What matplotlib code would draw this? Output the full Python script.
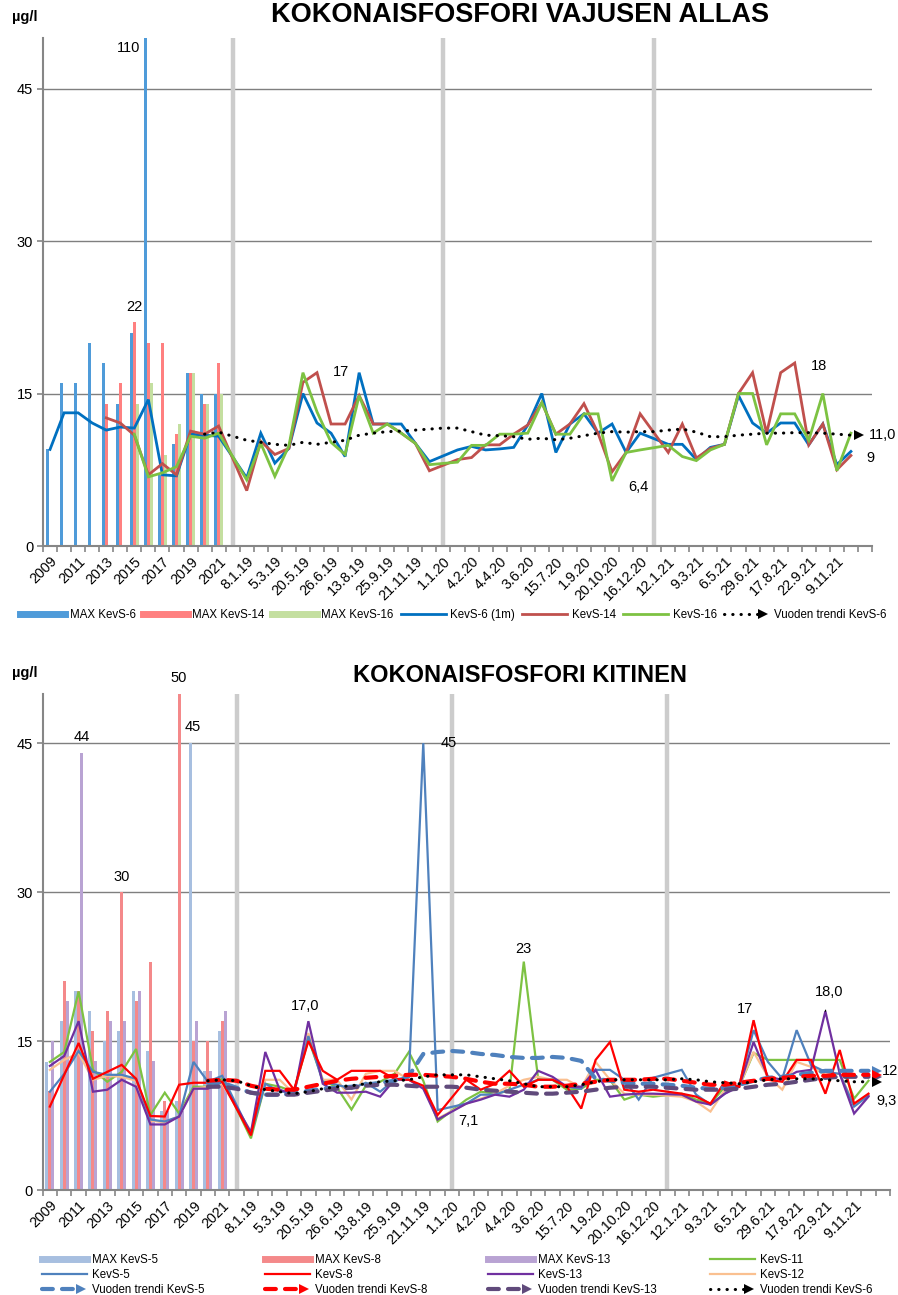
import numpy as np
import matplotlib.pyplot as plt
from matplotlib.lines import Line2D
from matplotlib.legend_handler import HandlerBase

plt.rcParams['font.family'] = ['Liberation Sans', 'DejaVu Sans']

# category axis: 13 years, separator, 14 dates 2019, separator, 14 dates 2020, separator, 14 dates 2021, blank
N_CAT = 59
separators = [13, 28, 43]
x_labels = ['2009', '', '2011', '', '2013', '', '2015', '', '2017', '', '2019', '', '2021', '',
            '8.1.19', '', '5.3.19', '', '20.5.19', '', '26.6.19', '', '13.8.19', '', '25.9.19', '', '21.11.19', '',
            '1.1.20', '', '4.2.20', '', '4.4.20', '', '3.6.20', '', '15.7.20', '', '1.9.20', '', '20.10.20', '',
            '16.12.20', '',
            '12.1.21', '', '9.3.21', '', '6.5.21', '', '29.6.21', '', '17.8.21', '', '22.9.21', '', '9.11.21', '', '']
TREND_START = 11

# ---- top chart: Vajusen allas ----
max_kevs6 = [9.5, 16, 16, 20, 18, 14, 21, 110, 7, 10, 17, 15, 15]
max_kevs14 = [None, None, None, None, 14, 16, 22, 20, 20, 11, 17, 14, 18]
max_kevs16 = [None, None, None, None, None, None, 14, 16, 9, 12, 17, 14, 15]

kevs6_years = [9.5, 13.1, 13.1, 12.1, 11.4, 11.7, 11.6, 14.4, 7.0, 6.9, 11.0, 10.9, 10.8]
kevs6_2019 = [6.7, 11.1, 8.15, 9.6, 15.0, 12.1, 11.1, 8.8, 17.05, 12.0, 12.0, 12.0, 10.1, 8.3]
kevs6_2020 = [9.45, 9.8, 9.45, 9.55, 9.7, 11.9, 15.0, 9.2, 12.0, 13.0, 11.1, 12.0, 9.2, 11.1]
kevs6_2021 = [10.0, 10.0, 8.5, 9.7, 10.0, 14.8, 12.1, 11.1, 12.1, 12.1, 9.95, 12.0, 8.0, 9.3]

kevs14_years = [None, None, None, None, 12.6, 12.1, 10.9, 7.0, 8.1, 7.0, 11.3, 11.0, 11.8]
kevs14_2019 = [5.45, 10.3, 9.0, 9.6, 16.1, 17.05, 12.0, 12.0, 14.8, 12.0, 12.0, 11.1, 10.1, 7.4]
kevs14_2020 = [8.5, 8.7, 9.95, 9.95, 11.0, 11.9, 14.1, 11.0, 12.0, 14.0, 11.1, 7.3, 9.2, 13.0]
kevs14_2021 = [9.2, 12.0, 8.65, 9.6, 10.0, 15.0, 17.05, 11.1, 17.05, 18.0, 9.95, 12.0, 7.5, 8.9]

kevs16_years = [None, None, None, None, None, None, 11.0, 6.8, 7.2, 7.8, 10.8, 10.6, 11.1]
kevs16_2019 = [6.5, 10.1, 6.85, 9.85, 17.05, 13.2, 10.2, 9.0, 14.8, 11.1, 12.0, 11.1, 10.1, 8.0]
kevs16_2020 = [8.25, 9.9, 9.9, 11.0, 11.0, 11.1, 14.1, 11.0, 11.0, 13.0, 13.0, 6.4, 9.2, 9.45]
kevs16_2021 = [9.9, 8.8, 8.4, 9.45, 10.0, 15.0, 15.0, 9.95, 13.0, 13.0, 10.4, 15.0, 7.4, 11.1]

trend6_top = [11.0, 11.2, 10.8, 10.4, 10.2, 10.0, 9.9, 10.2, 10.0, 10.2, 10.4, 10.9, 11.1, 11.25,
              11.3, 11.4, 11.5, 11.6, 11.6, 11.25, 10.9, 10.85, 10.75, 10.5, 10.6, 10.45, 10.6, 10.85,
              11.1, 11.25, 11.2, 11.25, 11.25, 11.4, 11.5, 11.2, 10.75, 10.75, 10.9, 11.0, 11.1, 11.1,
              11.15, 11.15, 11.1, 11.0, 10.9]

# ---- bottom chart: Kitinen ----
max_kevs5 = [12.9, 17, 20, 18, 15, 16, 20, 14, 8, 9, 45, 12, 16]
max_kevs8 = [10, 21, 20, 16, 18, 30, 19, 23, 9, 50, 15, 15, 17]
max_kevs13 = [15, 19, 44, 13, 17, 17, 20, 13, 8, 8, 17, 12, 18]

kevs5_years = [9.9, 11.7, 14.0, 11.9, 11.6, 11.6, 11.2, 7.1, 6.9, 7.4, 12.9, 10.9, 11.5]
kevs5_2019 = [5.6, 10.7, 9.9, 9.9, 15.5, 10.9, 10.6, 10.2, 10.8, 9.9, 11.1, 11.4, 45, 8.05]
kevs5_2020 = [8.7, 9.6, 9.6, 10.1, 10.6, 11.1, 11.1, 10.4, 10.2, 12.1, 12.1, 11.1, 9.1, 11.3]
kevs5_2021 = [12.1, 9.6, 8.6, 9.7, 10.6, 16.1, 12.9, 11.2, 16.1, 12.6, 11.9, 11.7, 8.4, 9.5]

kevs8_years = [8.4, 11.6, 14.8, 11.2, 11.9, 12.6, 11.2, 7.45, 7.4, 10.6, 10.8, 10.8, 10.9]
kevs8_2019 = [5.5, 12.0, 12.0, 10.1, 15.0, 12.0, 11.1, 12.0, 12.0, 12.0, 11.2, 11.1, 10.5, 7.55]
kevs8_2020 = [11.1, 10.1, 10.7, 12.0, 10.4, 11.1, 11.1, 10.4, 8.2, 13.1, 14.9, 10.1, 9.9, 10.1]
kevs8_2021 = [9.7, 9.4, 8.7, 10.9, 10.4, 17.1, 11.1, 10.9, 13.1, 13.1, 9.7, 14.1, 8.7, 9.7]

kevs13_years = [12.5, 13.5, 17.0, 9.9, 10.1, 11.1, 10.4, 6.6, 6.6, 7.4, 10.2, 10.2, 10.9]
kevs13_2019 = [5.8, 13.9, 10.1, 9.6, 17.0, 10.7, 9.8, 9.8, 9.9, 9.4, 11.1, 11.1, 10.2, 7.1]
kevs13_2020 = [8.7, 9.1, 9.6, 9.4, 10.1, 12.0, 11.4, 10.4, 10.4, 12.1, 9.4, 9.6, 9.7, 9.7]
kevs13_2021 = [9.6, 8.9, 8.6, 9.7, 10.4, 14.9, 11.4, 11.1, 11.9, 12.1, 18.0, 11.7, 7.7, 9.4]

kevs11_years = [12.9, 13.9, 20.0, 12.1, 10.9, 11.9, 14.2, 7.55, 9.8, 7.7, 10.4, 10.4, 11.2]
kevs11_2019 = [5.2, 10.7, 10.4, 9.9, 15.2, 11.1, 10.3, 8.1, 10.5, 10.9, 11.7, 13.9, 11.0, 6.9]
kevs11_2020 = [9.1, 9.9, 9.7, 10.0, 23.0, 11.2, 11.1, 10.1, 10.2, 11.1, 11.1, 9.1, 9.6, 9.4]
kevs11_2021 = [9.7, 9.1, 8.7, 10.4, 10.4, 13.8, 13.1, 13.1, 13.1, 13.1, 13.1, 13.1, 9.2, 11.0]

kevs12_years = [12.1, 13.1, 13.8, 11.1, 11.5, 11.4, 11.0, 7.0, 6.8, 7.45, 10.2, 10.4, 10.7]
kevs12_2019 = [5.9, 11.1, 11.1, 9.7, 15.8, 11.1, 11.1, 9.1, 11.7, 12.0, 12.0, 11.1, 10.3, 7.2]
kevs12_2020 = [8.7, 9.2, 9.7, 10.5, 11.1, 11.4, 11.1, 11.1, 10.3, 12.9, 11.1, 9.7, 9.6, 9.6]
kevs12_2021 = [9.4, 8.9, 7.9, 10.1, 10.4, 13.9, 11.4, 10.1, 12.9, 12.4, 11.6, 11.7, 8.6, 9.6]

trend5 = [10.8, 10.8, 10.3, 9.8, 9.6, 9.6, 9.7, 10.0, 10.2, 10.3, 10.4, 10.6, 10.8, 11.0,
          11.5, 13.7, 13.9, 14.0, 13.9, 13.7, 13.6, 13.4, 13.3, 13.3, 13.4, 13.3, 13.0, 11.2,
          11.0, 10.8, 10.7, 10.7, 10.6, 10.5, 10.3, 10.2, 10.3, 10.6, 11.0, 11.3, 11.4, 11.6,
          11.8, 12.0, 12.0, 12.0, 12.0]
trend8 = [11.0, 11.1, 11.0, 10.5, 10.2, 10.1, 10.1, 10.4, 10.7, 11.0, 11.2, 11.3, 11.4, 11.5,
          11.6, 11.6, 11.5, 11.4, 11.2, 10.9, 10.7, 10.7, 10.6, 10.4, 10.4, 10.5, 10.7, 10.9,
          11.1, 11.1, 11.1, 11.2, 11.2, 11.0, 10.8, 10.6, 10.6, 10.8, 11.0, 11.2, 11.3, 11.4,
          11.5, 11.5, 11.6, 11.6, 11.6]
trend13 = [10.4, 10.4, 10.2, 9.8, 9.6, 9.6, 9.6, 9.8, 10.0, 10.2, 10.3, 10.5, 10.6, 10.6,
           10.5, 10.4, 10.4, 10.4, 10.3, 10.1, 10.0, 9.9, 9.8, 9.7, 9.7, 9.8, 9.9, 10.1,
           10.3, 10.4, 10.4, 10.4, 10.3, 10.2, 10.1, 10.1, 10.1, 10.2, 10.4, 10.6, 10.7, 10.9,
           11.1, 11.3, 11.4, 11.4, 11.4]
trend6_bottom = [11.0, 11.1, 11.0, 10.5, 10.1, 9.9, 9.7, 9.9, 10.2, 10.4, 10.5, 10.7, 10.9, 11.0,
                 11.1, 11.4, 11.6, 11.6, 11.6, 11.4, 11.2, 11.0, 10.7, 10.4, 10.4, 10.4, 10.6, 10.9,
                 11.1, 11.1, 11.1, 11.1, 11.1, 11.2, 11.1, 10.9, 10.8, 10.7, 10.9, 11.1, 11.2, 11.2,
                 11.2, 11.1, 11.0, 10.9, 10.9]

assert len(x_labels) == N_CAT


def to_cats(years, d2019, d2020, d2021):
    vals = list(years) + [None] + list(d2019) + [None] + list(d2020) + [None] + list(d2021) + [None]
    return np.array([np.nan if v is None else v for v in vals], dtype=float)


class ArrowLineHandler(HandlerBase):
    def create_artists(self, legend, orig_handle, xdescent, ydescent, width, height, fontsize, trans):
        y = height / 2 - ydescent
        x0, x1 = -xdescent, width - xdescent
        line = Line2D([x0, x1 - 6], [y, y])
        line.update_from(orig_handle)
        line.set_marker('None')
        head = Line2D([x1 - 4], [y], marker='>', color=orig_handle.get_color(),
                      markersize=7, linestyle='None', markeredgewidth=0)
        line.set_transform(trans)
        head.set_transform(trans)
        return [line, head]


def style_axes(ax):
    ax.set_xlim(-0.5, N_CAT - 0.5)
    ax.set_ylim(0, 50)
    ax.set_yticks([0, 15, 30, 45])
    ax.set_xticks(range(N_CAT))
    ax.set_xticklabels(x_labels, rotation=45, ha='right', rotation_mode='anchor', fontsize=10.3)
    ax.set_xticks(np.arange(-0.5, N_CAT, 1.0), minor=True)
    ax.tick_params(axis='x', which='major', length=0, pad=6)
    ax.tick_params(axis='x', which='minor', length=4, width=1.2, color='#868686')
    ax.tick_params(axis='y', length=4, width=1.2, color='#868686', labelsize=10.5, pad=3)
    ax.yaxis.grid(True, color='#7f7f7f', lw=1.0)
    ax.set_axisbelow(True)
    for s in ['top', 'right']:
        ax.spines[s].set_visible(False)
    for s in ['left', 'bottom']:
        ax.spines[s].set_color('#868686')
        ax.spines[s].set_linewidth(1.5)
    ax.vlines(separators, 0, 50, color='#cccccc', lw=3.2, zorder=1)


def draw_bars(ax, series, colors, width=0.21):
    offsets = [-width, 0, width]
    yrs = np.arange(13)
    for vals, col, off in zip(series, colors, offsets):
        v = np.array([np.nan if x is None else x for x in vals], dtype=float)
        m = ~np.isnan(v)
        ax.bar(yrs[m] + off, v[m], width=width, color=col, zorder=2, linewidth=0)


def draw_line(ax, vals, color, lw):
    x = np.arange(N_CAT)
    m = ~np.isnan(vals)
    ax.plot(x[m], vals[m], color=color, lw=lw, zorder=4, solid_joinstyle='miter')


def draw_trend(ax, vals, color, lw, ls, zorder=5):
    x = np.arange(TREND_START, TREND_START + len(vals))
    ax.plot(x, vals, color=color, lw=lw, linestyle=ls, dash_capstyle='round', zorder=zorder)
    ax.plot([x[-1] + 0.6], [vals[-1]], marker='>', color=color, ms=7, mew=0, zorder=zorder)


def label(ax, text, x, y, dx, dy, ha='center', **kw):
    ax.annotate(text, xy=(x, min(y, 50)), xytext=(dx, dy), textcoords='offset pixels',
                ha=ha, va='center', fontsize=10.5, annotation_clip=False, zorder=6, **kw)


fig = plt.figure(figsize=(8.98, 12.95), dpi=100)
W, H = 898.0, 1295.0
ax1 = fig.add_axes([43 / W, 1 - 546 / H, (872 - 43) / W, (546 - 37.7) / H])
ax2 = fig.add_axes([42.7 / W, 1 - 1190 / H, (890 - 42.7) / W, (1190 - 693.5) / H])

# ---------- top ----------
style_axes(ax1)
top_bar_colors = ['#4f9bd9', '#ff8080', '#c4dfa0']
draw_bars(ax1, [max_kevs6, max_kevs14, max_kevs16], top_bar_colors)
k6 = to_cats(kevs6_years, kevs6_2019, kevs6_2020, kevs6_2021)
k14 = to_cats(kevs14_years, kevs14_2019, kevs14_2020, kevs14_2021)
k16 = to_cats(kevs16_years, kevs16_2019, kevs16_2020, kevs16_2021)
draw_line(ax1, k6, '#0070c0', 2.0)
draw_line(ax1, k14, '#c0504d', 2.0)
draw_line(ax1, k16, '#7dc242', 2.0)
dot_ls = (0, (0.1, 2.6))
draw_trend(ax1, trend6_top, 'black', 2.2, dot_ls)

label(ax1, '110', 7 - 0.21, max_kevs6[7], -17, -10)
label(ax1, '22', 6, max_kevs14[6], 0, 15)
label(ax1, '17', 22, k6[22], -18, 1)
label(ax1, '18', 53, k14[53], 24, -3)
label(ax1, '6,4', 40, k16[40], 26, -6)
label(ax1, '11,0', TREND_START + len(trend6_top) - 1, trend6_top[-1], 18, 0, ha='left')
label(ax1, '9', 57, k6[57], 20, -7)

fig.text(0.579, 1 - 15 / H, 'KOKONAISFOSFORI VAJUSEN ALLAS', ha='center', va='center',
         fontsize=19.5, fontweight='bold')
fig.text(12 / W, 1 - 17 / H, 'µg/l', ha='left', va='center', fontsize=10.5, fontweight='bold')

top_handles = [
    Line2D([], [], color=top_bar_colors[0], lw=5),
    Line2D([], [], color=top_bar_colors[1], lw=5),
    Line2D([], [], color=top_bar_colors[2], lw=5),
    Line2D([], [], color='#0070c0', lw=2),
    Line2D([], [], color='#c0504d', lw=2),
    Line2D([], [], color='#7dc242', lw=2),
    Line2D([], [], color='black', lw=2.2, linestyle=dot_ls, dash_capstyle='round'),
]
top_names = ['MAX KevS-6', 'MAX KevS-14', 'MAX KevS-16', 'KevS-6 (1m)', 'KevS-14', 'KevS-16',
             'Vuoden trendi KevS-6']
fig.legend(top_handles, top_names, loc='center left', bbox_to_anchor=(20 / W, 1 - 615 / H),
           ncol=7, frameon=False, fontsize=8.3, handlelength=3.9, handletextpad=0.4,
           columnspacing=0.62, borderpad=0, borderaxespad=0,
           handler_map={top_handles[6]: ArrowLineHandler()})

# ---------- bottom ----------
style_axes(ax2)
bot_bar_colors = ['#a7bfe0', '#f4898a', '#b9a3d3']
draw_bars(ax2, [max_kevs5, max_kevs8, max_kevs13], bot_bar_colors)
k5 = to_cats(kevs5_years, kevs5_2019, kevs5_2020, kevs5_2021)
k8 = to_cats(kevs8_years, kevs8_2019, kevs8_2020, kevs8_2021)
k13 = to_cats(kevs13_years, kevs13_2019, kevs13_2020, kevs13_2021)
k11 = to_cats(kevs11_years, kevs11_2019, kevs11_2020, kevs11_2021)
k12 = to_cats(kevs12_years, kevs12_2019, kevs12_2020, kevs12_2021)
c5, c8, c13, c11, c12 = '#4f81bd', '#ff0000', '#7030a0', '#7dc242', '#fac090'
draw_line(ax2, k11, c11, 1.6)
draw_line(ax2, k12, c12, 1.6)
draw_line(ax2, k5, c5, 1.6)
draw_line(ax2, k13, c13, 1.6)
draw_line(ax2, k8, c8, 1.6)
dash_ls = (0, (2.6, 2.2))
draw_trend(ax2, trend5, c5, 3.0, dash_ls)
draw_trend(ax2, trend13, '#604a7b', 3.0, dash_ls)
draw_trend(ax2, trend8, c8, 3.0, dash_ls)
draw_trend(ax2, trend6_bottom, 'black', 2.2, dot_ls, zorder=6)

label(ax2, '44', 2 + 0.21, max_kevs13[2], 0, 16)
label(ax2, '30', 5, max_kevs8[5], 0, 15)
label(ax2, '50', 9, max_kevs8[9], 0, 16)
label(ax2, '45', 10 - 0.21, max_kevs5[10], 2, 16)
label(ax2, '17,0', 18, k13[18], -3, 15)
label(ax2, '45', 26, k5[26], 25, 0)
label(ax2, '23', 33, k11[33], 0, 13)
label(ax2, '7,1', 27, k13[27], 31, -2)
label(ax2, '17', 49, k8[49], -9, 11)
label(ax2, '18,0', 54, k13[54], 4, 19,
      arrowprops=dict(arrowstyle='-', color='black', lw=0.9, shrinkA=6, shrinkB=1))
label(ax2, '12', TREND_START + len(trend5) - 1, trend5[-1], 13, 0, ha='left')
label(ax2, '9,3', 57, k13[57], 8, -4, ha='left')

fig.text(0.579, 1 - 675 / H, 'KOKONAISFOSFORI KITINEN', ha='center', va='center',
         fontsize=17, fontweight='bold')
fig.text(12 / W, 1 - 673 / H, 'µg/l', ha='left', va='center', fontsize=10.5, fontweight='bold')

arrow = ArrowLineHandler()
bottom_cols = [
    ([Line2D([], [], color=bot_bar_colors[0], lw=5), Line2D([], [], color=c5, lw=1.6),
      Line2D([], [], color=c5, lw=3, linestyle=dash_ls, dash_capstyle='round')],
     ['MAX KevS-5', 'KevS-5', 'Vuoden trendi KevS-5'], 42),
    ([Line2D([], [], color=bot_bar_colors[1], lw=5), Line2D([], [], color=c8, lw=1.6),
      Line2D([], [], color=c8, lw=3, linestyle=dash_ls, dash_capstyle='round')],
     ['MAX KevS-8', 'KevS-8', 'Vuoden trendi KevS-8'], 265),
    ([Line2D([], [], color=bot_bar_colors[2], lw=5), Line2D([], [], color=c13, lw=1.6),
      Line2D([], [], color='#604a7b', lw=3, linestyle=dash_ls, dash_capstyle='round')],
     ['MAX KevS-13', 'KevS-13', 'Vuoden trendi KevS-13'], 488),
    ([Line2D([], [], color=c11, lw=1.6), Line2D([], [], color=c12, lw=1.6),
      Line2D([], [], color='black', lw=2.2, linestyle=dot_ls, dash_capstyle='round')],
     ['KevS-11', 'KevS-12', 'Vuoden trendi KevS-6'], 710),
]
for handles, names, xpix in bottom_cols:
    fig.legend(handles, names, loc='upper left', bbox_to_anchor=(xpix / W, 1 - 1254 / H),
               ncol=1, frameon=False, fontsize=8.3, handlelength=3.9, handletextpad=0.4,
               labelspacing=0.25, borderpad=0, borderaxespad=0,
               handler_map={handles[2]: arrow})

fig.savefig('out.png', dpi=100)
